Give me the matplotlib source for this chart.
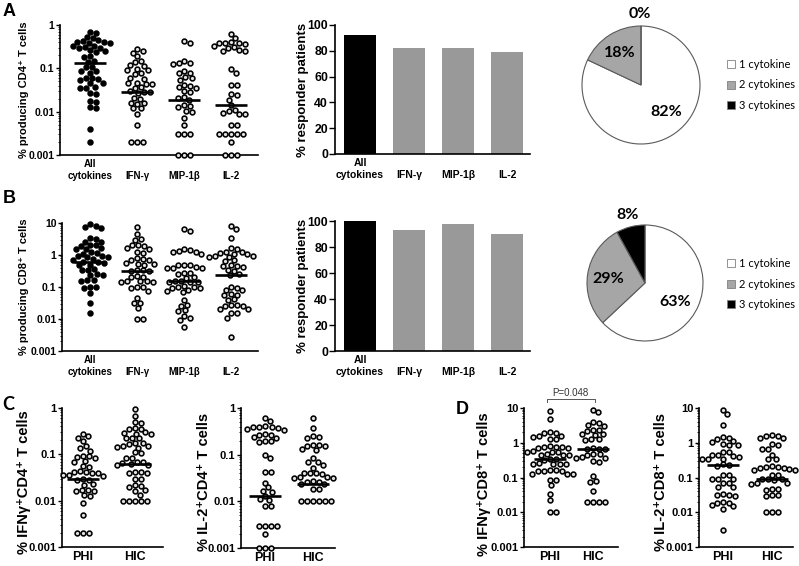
import numpy as np
import matplotlib
matplotlib.use('Agg')
import matplotlib.pyplot as plt
from matplotlib.patches import Patch
from matplotlib.ticker import LogLocator, NullFormatter

# ---------------- DATA ----------------
cats = ['All\ncytokines', 'IFN-γ', 'MIP-1β', 'IL-2']
groups = ['PHI', 'HIC']

# Panel A: % producing CD4+ T cells
A_all = [0.68, 0.64, 0.53, 0.50, 0.44, 0.42, 0.41, 0.40, 0.39, 0.38, 0.33, 0.32, 0.31, 0.30,
         0.29, 0.26, 0.25, 0.24, 0.19, 0.18, 0.15, 0.14, 0.11, 0.105, 0.087, 0.085, 0.08,
         0.06, 0.059, 0.057, 0.055, 0.046, 0.045, 0.037, 0.036, 0.035, 0.027, 0.025, 0.018,
         0.017, 0.013, 0.012, 0.004, 0.002]
A_ifng = [0.28, 0.25, 0.23, 0.19, 0.15, 0.14, 0.12, 0.115, 0.097, 0.093, 0.09, 0.076, 0.073,
          0.06, 0.058, 0.047, 0.045, 0.044, 0.043, 0.037, 0.035, 0.03, 0.029, 0.028, 0.027,
          0.021, 0.02, 0.016, 0.016, 0.015, 0.012, 0.012, 0.009, 0.005, 0.002, 0.002, 0.002]
A_mip = [0.42, 0.38, 0.145, 0.135, 0.13, 0.125, 0.085, 0.08, 0.078, 0.063, 0.06, 0.055, 0.042,
         0.04, 0.037, 0.036, 0.03, 0.028, 0.022, 0.021, 0.019, 0.014, 0.0135, 0.013, 0.0105,
         0.01, 0.007, 0.005, 0.003, 0.003, 0.003, 0.001, 0.001, 0.001]
A_il2 = [0.62, 0.49, 0.40, 0.39, 0.385, 0.38, 0.37, 0.32, 0.31, 0.30, 0.26, 0.25, 0.245, 0.095,
         0.078, 0.042, 0.041, 0.025, 0.024, 0.019, 0.014, 0.011, 0.0105, 0.0095, 0.009, 0.0088,
         0.005, 0.005, 0.003, 0.003, 0.003, 0.003, 0.003, 0.002, 0.001, 0.001, 0.001]
A_med = [0.13, 0.029, 0.019, 0.014]

# Panel B: % producing CD8+ T cells
B_all = [9.0, 8.3, 7.5, 6.8, 3.3, 3.1, 2.6, 2.5, 2.1, 2.0, 1.9, 1.6, 1.55, 1.5, 1.2, 1.15,
         1.1, 0.92, 0.9, 0.88, 0.85, 0.75, 0.72, 0.62, 0.6, 0.58, 0.5, 0.48,
         0.36, 0.34, 0.33, 0.25, 0.24, 0.23, 0.17, 0.16, 0.15, 0.1, 0.1, 0.095, 0.065,
         0.032, 0.015]
B_ifng = [7.5, 4.5, 3.2, 3.0, 2.1, 2.0, 1.9, 1.6, 1.5, 1.2, 1.15, 0.78, 0.75, 0.72, 0.7, 0.56,
          0.54, 0.52, 0.5, 0.34, 0.33, 0.32, 0.31, 0.22, 0.21, 0.2, 0.155, 0.15, 0.15, 0.145,
          0.14, 0.1, 0.1, 0.095, 0.075, 0.046, 0.032, 0.031, 0.022, 0.01, 0.01]
B_mip = [6.5, 5.5, 1.55, 1.4, 1.3, 1.25, 1.2, 1.1, 0.5, 0.49, 0.48, 0.41, 0.4, 0.39, 0.38, 0.28,
         0.27, 0.26, 0.2, 0.19, 0.15, 0.15, 0.145, 0.14, 0.14, 0.105, 0.1, 0.1, 0.095, 0.09,
         0.078, 0.075, 0.07, 0.04, 0.028, 0.026, 0.019, 0.018, 0.012, 0.011, 0.0092, 0.0058]
B_il2 = [8.0, 6.3, 3.3, 1.6, 1.55, 1.25, 1.2, 1.15, 1.1, 1.05, 0.92, 0.9, 0.88, 0.85, 0.68,
         0.65, 0.47, 0.45, 0.44, 0.42, 0.34, 0.32, 0.25, 0.23, 0.1, 0.095, 0.08, 0.078, 0.06,
         0.058, 0.055, 0.041, 0.039, 0.028, 0.027, 0.026, 0.025, 0.021, 0.02, 0.015, 0.015,
         0.011, 0.0028]
B_med = [0.62, 0.32, 0.15, 0.24]

# Bar charts: % responder patients
resp_A = [92, 82, 82, 79]
resp_B = [100, 93, 98, 90]

# Pies: number of cytokines
pie_labels = ['1 cytokine', '2 cytokines', '3 cytokines']
pie_A = [82, 18, 0]
pie_B = [63, 29, 8]

# Panel C: CD4
C_ifng_phi = [0.27, 0.25, 0.23, 0.19, 0.15, 0.14, 0.12, 0.092, 0.09, 0.088, 0.085, 0.071, 0.069,
              0.055, 0.053, 0.043, 0.042, 0.041, 0.04, 0.04, 0.036, 0.035, 0.034, 0.029, 0.028,
              0.028, 0.023, 0.022, 0.017, 0.017, 0.016, 0.016, 0.013, 0.0125, 0.009, 0.005,
              0.002, 0.002, 0.002]
C_ifng_hic = [0.95, 0.67, 0.5, 0.48, 0.37, 0.36, 0.35, 0.3, 0.29, 0.28, 0.28, 0.23, 0.22, 0.22,
              0.18, 0.175, 0.17, 0.15, 0.15, 0.145, 0.14, 0.11, 0.105, 0.085, 0.082, 0.07, 0.068,
              0.066, 0.062, 0.06, 0.058, 0.042, 0.041, 0.04, 0.04, 0.03, 0.029, 0.022, 0.021,
              0.02, 0.017, 0.016, 0.0135, 0.01, 0.01, 0.01, 0.01, 0.01]
C_il2_phi = [0.61, 0.52, 0.41, 0.40, 0.40, 0.39, 0.38, 0.35, 0.34, 0.28, 0.27, 0.26, 0.24, 0.23,
             0.2, 0.2, 0.19, 0.097, 0.083, 0.043, 0.042, 0.025, 0.02, 0.017, 0.016, 0.013,
             0.011, 0.0105, 0.008, 0.0078, 0.003, 0.003, 0.003, 0.003, 0.002, 0.001, 0.001, 0.001]
C_il2_hic = [0.62, 0.38, 0.25, 0.24, 0.23, 0.16, 0.16, 0.155, 0.15, 0.13, 0.125, 0.083, 0.07,
             0.068, 0.06, 0.052, 0.041, 0.04, 0.04, 0.039, 0.033, 0.033, 0.032, 0.032, 0.027,
             0.026, 0.026, 0.024, 0.024, 0.018, 0.018, 0.01, 0.01, 0.01, 0.01, 0.01, 0.01]
C_ifng_med = [0.029, 0.061]
C_il2_med = [0.013, 0.024]

# Panel D: CD8
D_ifng_phi = [8.0, 4.7, 2.0, 1.9, 1.9, 1.6, 1.55, 1.5, 1.3, 1.25, 0.78, 0.76, 0.75, 0.74, 0.72,
              0.7, 0.57, 0.56, 0.55, 0.54, 0.46, 0.45, 0.44, 0.43, 0.34, 0.33, 0.32, 0.26, 0.25,
              0.25, 0.24, 0.24, 0.16, 0.16, 0.155, 0.15, 0.15, 0.13, 0.13, 0.125, 0.087, 0.085,
              0.06, 0.034, 0.023, 0.01, 0.01]
D_ifng_hic = [9.0, 7.5, 4.0, 3.8, 3.2, 3.1, 2.4, 2.3, 2.2, 1.8, 1.75, 1.7, 1.3, 1.25, 1.2, 0.7,
              0.68, 0.66, 0.64, 0.48, 0.47, 0.45, 0.38, 0.37, 0.36, 0.29, 0.28, 0.11, 0.08,
              0.075, 0.04, 0.02, 0.02, 0.02, 0.02]
D_il2_phi = [9.0, 6.7, 3.3, 1.45, 1.4, 1.3, 1.1, 1.05, 0.9, 0.88, 0.85, 0.56,
             0.54, 0.44, 0.43, 0.42, 0.4, 0.35, 0.34, 0.33, 0.24, 0.23, 0.22, 0.12, 0.115,
             0.093, 0.09, 0.088, 0.07, 0.068, 0.055, 0.053, 0.033, 0.032, 0.031,
             0.029, 0.02, 0.019, 0.018, 0.016, 0.015, 0.012, 0.003]
D_il2_hic = [1.7, 1.6, 1.55, 1.4, 1.35, 0.9, 0.85, 0.67, 0.65, 0.45, 0.35, 0.34, 0.21, 0.2, 0.2,
             0.19, 0.19, 0.17, 0.165, 0.16, 0.12, 0.115, 0.09, 0.09, 0.088, 0.085, 0.07, 0.068,
             0.066, 0.047, 0.046, 0.045, 0.032, 0.031, 0.03, 0.01, 0.01, 0.01]
D_ifng_med = [0.33, 0.65]
D_il2_med = [0.23, 0.09]
p_text = 'P=0.048'

# ---------------- FIGURE ----------------
W, H = 799, 566
plt.rcParams['font.family'] = ['Liberation Sans', 'DejaVu Sans']
fig = plt.figure(figsize=(W / 100, H / 100), dpi=100)


def add_ax(l, t, r, b):
    return fig.add_axes([l / W, 1 - b / H, (r - l) / W, (b - t) / H])


def swarm_x(ax, x0, vals, d=5.7, step=0.5):
    vals = np.asarray(vals, float)
    pts = ax.transData.transform(np.column_stack([np.full(len(vals), x0), vals]))
    ys = pts[:, 1]
    xc = pts[0, 0]
    ppu = ax.transData.transform([[x0 + 1, vals[0]]])[0, 0] - xc
    order = np.argsort(-ys, kind='stable')
    placed = []
    offs = np.zeros(len(vals))
    for i in order:
        y = ys[i]
        near = [(px, py) for px, py in placed if abs(py - y) < d]
        k = 0
        found = None
        while found is None:
            cands = [0.0] if k == 0 else [k * step, -k * step]
            for c in cands:
                if all((c - px) ** 2 + (y - py) ** 2 >= d * d for px, py in near):
                    found = c
                    break
            k += 1
        offs[i] = found
        placed.append((found, y))
    return x0 + offs / ppu, ppu


def setup_log(ax, lo, hi, xlim, labels, tick_fs, cat_fs):
    ax.set_yscale('log')
    ax.set_ylim(lo, hi)
    ax.set_xlim(*xlim)
    for s in ['top', 'right']:
        ax.spines[s].set_visible(False)
    for s in ['left', 'bottom']:
        ax.spines[s].set_linewidth(1.2)
    decs = [10.0 ** e for e in range(int(round(np.log10(lo))), int(round(np.log10(hi))) + 1)]
    ax.set_yticks(decs, [('%g' % v) for v in decs])
    ax.yaxis.set_minor_locator(LogLocator(base=10, subs=np.arange(2, 10)))
    ax.yaxis.set_minor_formatter(NullFormatter())
    ax.tick_params(axis='y', which='major', length=3, width=1, pad=1, labelsize=tick_fs)
    ax.tick_params(axis='y', which='minor', length=1.5, width=0.6)
    labs = [l if '\n' in l else '\n' + l for l in labels] if any('\n' in l for l in labels) else labels
    ax.set_xticks(range(len(labels)), labs)
    ax.tick_params(axis='x', length=0, pad=3, labelsize=cat_fs)
    for t in ax.get_xticklabels() + ax.get_yticklabels():
        t.set_fontweight('bold')


def draw_columns(ax, datasets, medians, first_filled):
    for i, (vals, med) in enumerate(zip(datasets, medians)):
        xs, ppu = swarm_x(ax, i, vals)
        fc = 'black' if (first_filled and i == 0) else '#e2e2e2'
        ax.scatter(xs, vals, s=12, facecolor=fc, edgecolor='black', linewidth=1.15,
                   clip_on=False, zorder=3)
        hw = 16 / ppu
        ax.plot([i - hw, i + hw], [med, med], color='black', lw=1.9, zorder=4,
                solid_capstyle='butt')


def place_ylabel(ax, text, right_px, left_px, width_px, fs, yfrac=0.5):
    ax.set_ylabel(text, fontsize=fs, fontweight='bold')
    ax.yaxis.set_label_coords((right_px - left_px) / width_px, yfrac)


# Panel A scatter
axA = add_ax(60, 25, 258, 155)
setup_log(axA, 0.001, 1, (-0.64, 3.57), cats, 7.5, 7)
draw_columns(axA, [A_all, A_ifng, A_mip, A_il2], A_med, True)
place_ylabel(axA, '% producing CD4⁺ T cells', 29, 60, 198, 8)

# Panel B scatter
axB = add_ax(62, 223, 258, 351)
setup_log(axB, 0.001, 10, (-0.6, 3.57), cats, 7.5, 7)
draw_columns(axB, [B_all, B_ifng, B_mip, B_il2], B_med, True)
place_ylabel(axB, '% producing CD8⁺ T cells', 29, 62, 196, 8)


# Bar charts
def bar_panel(ax, vals):
    ax.bar(range(len(vals)), vals, width=0.66,
           color=['black'] + ['#999999'] * (len(vals) - 1), zorder=2)
    ax.set_ylim(0, 100)
    ax.set_xlim(-0.51, 3.47)
    for s in ['top', 'right']:
        ax.spines[s].set_visible(False)
    for s in ['left', 'bottom']:
        ax.spines[s].set_linewidth(1.2)
    ax.set_yticks(range(0, 101, 20))
    ax.tick_params(axis='y', length=4, width=1, pad=1, labelsize=8.8)
    ax.set_xticks(range(len(cats)), [l if '\n' in l else '\n' + l for l in cats])
    ax.tick_params(axis='x', length=0, pad=3, labelsize=7.5)
    for t in ax.get_xticklabels() + ax.get_yticklabels():
        t.set_fontweight('bold')


axAb = add_ax(335, 25, 530, 154)
bar_panel(axAb, resp_A)
place_ylabel(axAb, '% responder patients', 309, 335, 195, 9.5)
axBb = add_ax(335, 221, 530, 351)
bar_panel(axBb, resp_B)
place_ylabel(axBb, '% responder patients', 309, 335, 195, 9.5)

# Pies
pie_colors = ['white', '#a6a6a6', 'black']


def pie_panel(cx, cy, r, vals, label_pos, legend_y):
    ax = add_ax(cx - 60, cy - 60, cx + 60, cy + 60)
    ax.pie(vals, colors=pie_colors, startangle=90, counterclock=False, radius=r / 60,
           wedgeprops=dict(edgecolor='#5a5a5a', linewidth=0.8))
    ax.set_xlim(-1, 1)
    ax.set_ylim(-1, 1)
    ax.set_aspect('equal')
    ax.axis('off')
    for v, (px, py) in zip(vals, label_pos):
        fig.text(px / W, 1 - py / H, f'{v}%', ha='center', va='center',
                 family=['Lato', 'DejaVu Sans'], fontweight='bold', fontsize=11.5)
    handles = [Patch(facecolor=c, edgecolor='#808080', linewidth=0.6, label=l)
               for c, l in zip(pie_colors, pie_labels)]
    fig.legend(handles=handles, loc='center left', bbox_to_anchor=(727 / W, 1 - legend_y / H),
               frameon=False, prop={'family': 'Lato', 'size': 8}, handlelength=0.7,
               handleheight=0.7, handletextpad=0.35, labelspacing=0.85, borderpad=0,
               borderaxespad=0)


# label positions in pixels: (1 cytokine, 2 cytokines, 3 cytokines)
pie_panel(641, 85, 59, pie_A, [(666, 112), (620, 53), (640, 14)], 85)
pie_panel(645, 283, 58, pie_B, [(675, 302), (608, 279), (628, 215)], 284)

# Panel C
axC1 = add_ax(62, 408, 163, 547)
setup_log(axC1, 0.001, 1, (-0.4, 1.54), groups, 8, 9)
draw_columns(axC1, [C_ifng_phi, C_ifng_hic], C_ifng_med, False)
place_ylabel(axC1, '% IFNγ⁺CD4⁺ T cells', 31, 62, 101, 10.5, 0.47)

axC2 = add_ax(241, 408, 335, 548)
setup_log(axC2, 0.001, 1, (-0.5, 1.46), groups, 8, 9)
draw_columns(axC2, [C_il2_phi, C_il2_hic], C_il2_med, False)
place_ylabel(axC2, '% IL-2⁺CD4⁺ T cells', 211, 241, 94, 10.5, 0.47)

# Panel D
axD1 = add_ax(524, 408, 618, 547)
setup_log(axD1, 0.001, 10, (-0.6, 1.58), groups, 8, 9)
draw_columns(axD1, [D_ifng_phi, D_ifng_hic], D_ifng_med, False)
place_ylabel(axD1, '% IFNγ⁺CD8⁺ T cells', 491, 524, 94, 10.5, 0.45)
tr = axD1.get_xaxis_transform()
axD1.plot([-0.07, -0.07, 1.05, 1.05], [1.045, 1.065, 1.065, 1.045], transform=tr,
          color='#555555', lw=0.7, clip_on=False)
axD1.text(0.47, 1.11, p_text, transform=tr, ha='center', va='center', fontsize=7,
          color='#333333')

axD2 = add_ax(699, 408, 793, 547)
setup_log(axD2, 0.001, 10, (-0.49, 1.43), groups, 8, 9)
draw_columns(axD2, [D_il2_phi, D_il2_hic], D_il2_med, False)
place_ylabel(axD2, '% IL-2⁺CD8⁺ T cells', 668, 699, 94, 10.5, 0.47)

# Panel letters
fig.text(3 / W, 1 - 3 / H, 'A', ha='left', va='top', fontsize=13, fontweight='bold')
fig.text(3 / W, 1 - 190 / H, 'B', ha='left', va='top', fontsize=13, fontweight='bold')
fig.text(2 / W, 1 - 396 / H, 'C', ha='left', va='top', fontsize=13, fontweight='bold',
         family=['Lato', 'DejaVu Sans'])
fig.text(456 / W, 1 - 401 / H, 'D', ha='left', va='top', fontsize=13, fontweight='bold')

fig.savefig('out.png', dpi=100)
